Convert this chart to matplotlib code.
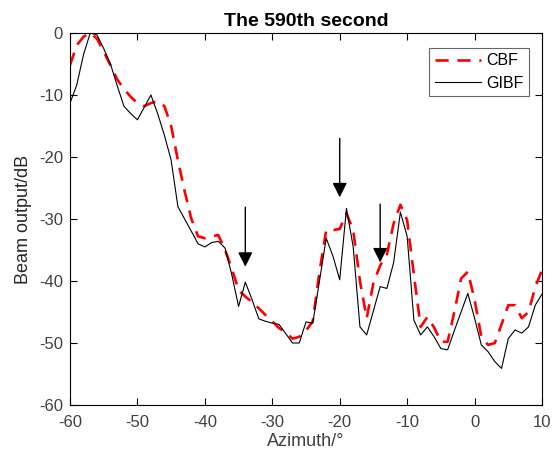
import matplotlib
matplotlib.use('Agg')
import matplotlib.pyplot as plt
import numpy as np

# 方位角 (度)
azimuth = list(range(-60, 11))

# CBF 波束输出 (dB)
cbf = [-5.2, -2.0, -0.6, 0.0, -0.9, -3.0, -5.2, -7.5, -9.0, -10.3,
       -11.3, -11.8, -11.3, -11.0, -11.8, -15.0, -20.5, -25.5, -30.0, -32.8,
       -33.1, -32.8, -32.6, -35.0, -38.0, -41.5, -42.5, -43.4, -44.4, -45.5,
       -46.5, -47.6, -48.3, -49.3, -49.0, -48.0, -46.5, -38.5, -31.8, -31.8,
       -31.6, -29.1, -31.8, -40.0, -46.0, -40.3, -37.5, -35.7, -30.7, -27.7,
       -30.2, -39.0, -47.4, -45.8, -47.5, -49.8, -49.8, -45.0, -39.6, -38.5,
       -43.0, -49.0, -50.3, -50.0, -47.0, -43.9, -43.9, -46.0, -45.0, -41.0,
       -38.2]

# GIBF 波束输出 (dB)
gibf = [-11.3, -8.4, -3.5, 0.0, -0.3, -2.5, -5.0, -8.5, -11.8, -13.0,
        -14.0, -12.0, -10.0, -13.0, -16.5, -20.5, -28.0, -30.0, -32.0, -34.0,
        -34.5, -33.8, -33.6, -34.7, -39.0, -44.1, -40.2, -43.0, -46.1, -46.5,
        -46.8, -47.0, -48.5, -50.0, -50.0, -46.6, -46.8, -40.0, -33.1, -36.0,
        -39.8, -28.3, -34.5, -47.4, -48.7, -44.8, -40.9, -41.2, -37.0, -28.9,
        -32.8, -46.3, -48.7, -47.4, -49.0, -50.9, -51.1, -48.0, -45.0, -42.0,
        -46.0, -50.3, -51.4, -53.0, -54.1, -49.3, -47.9, -48.4, -47.4, -43.9,
        -42.1]

# 箭头 (x, 起点y, 终点y)
arrow_x = [-34, -20, -14]
arrow_start = [-28.1, -17.0, -27.6]
arrow_end = [-37.7, -26.5, -37.0]

plt.rcParams['font.family'] = ['Liberation Sans', 'DejaVu Sans']
plt.rcParams['axes.unicode_minus'] = False

fig = plt.figure(figsize=(5.52, 4.59), dpi=100)
ax = fig.add_axes([70 / 552, 1 - 405 / 459, 472 / 552, 372 / 459])

ax.plot(azimuth, cbf, 'r--', linewidth=1.9, dashes=(5, 3.3), label='CBF')
ax.plot(azimuth, gibf, 'k-', linewidth=0.8, label='GIBF')

for x, y0, y1 in zip(arrow_x, arrow_start, arrow_end):
    ax.annotate('', xy=(x, y1), xytext=(x, y0),
                arrowprops=dict(arrowstyle='-|>', color='black',
                                linewidth=1.0, mutation_scale=22,
                                shrinkA=0, shrinkB=0))

ax.set_xlim(-60, 10)
ax.set_ylim(-60, 0)
ax.set_xticks(np.arange(-60, 11, 10))
ax.set_yticks(np.arange(-60, 1, 10))
ax.tick_params(direction='in', top=True, right=True, length=5,
               labelsize=12, labelcolor='#404040', width=0.8)
ax.tick_params(axis='x', pad=7)
ax.tick_params(axis='y', pad=5)
for s in ax.spines.values():
    s.set_linewidth(0.8)

ax.set_xlabel('Azimuth/°', fontsize=13, color='#404040', labelpad=2)
ax.set_ylabel('Beam output/dB', fontsize=13, color='#262626', labelpad=5)
ax.set_title('The 590th second', fontsize=14, fontweight='bold', pad=5)

leg = ax.legend(loc='upper right', bbox_to_anchor=(0.972, 0.96),
                borderaxespad=0, fontsize=11.5, fancybox=False,
                framealpha=1, edgecolor='#666666', handlelength=2.9,
                handletextpad=0.3, borderpad=0.35, labelspacing=0.45)
leg.get_frame().set_linewidth(0.8)

plt.savefig('out.png', dpi=100)
plt.close()
